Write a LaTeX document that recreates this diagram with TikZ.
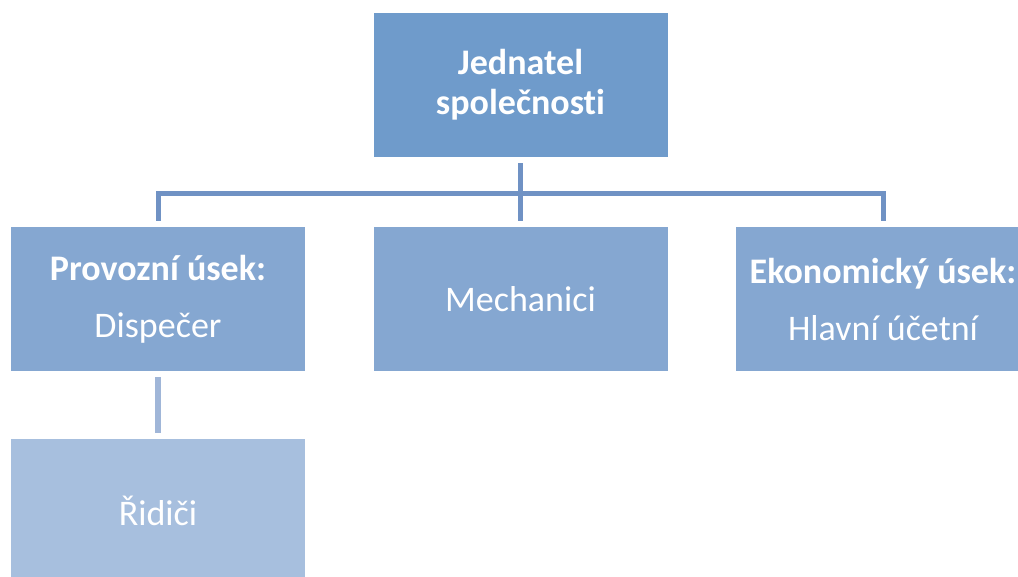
\documentclass[tikz,border=0pt]{standalone}
\usepackage{fontspec}
\setmainfont{Carlito}[Ligatures=NoCommon]
\definecolor{headblue}{HTML}{6F9BCB}
\definecolor{unitblue}{HTML}{85A7D1}
\definecolor{staffblue}{HTML}{A7BFDE}
\definecolor{lineblue}{HTML}{7092C4}
\definecolor{lightline}{HTML}{A0B6D8}
\tikzset{
  orgbox/.style={rectangle, minimum width=294pt, minimum height=144pt,
    inner sep=0pt, text=white, align=center,
    font=\fontsize{36}{40}\selectfont},
  link/.style={line width=5pt, draw=lineblue},
}

\begin{document}
\begin{tikzpicture}[x=1pt,y=-1pt]
    \useasboundingbox (0,0) rectangle (1018,576);
    \clip (0,0) rectangle (1018,576);
    % boxes
    \node[orgbox, fill=headblue, font=\fontsize{36}{40}\selectfont\bfseries]
        (boss) at (520.5,85) {Jednatel\\společnosti};
    \node[orgbox, fill=unitblue] (ops) at (158,299)
        {\textbf{Provozní úsek:}\\[17pt]Dispečer};
    \node[orgbox, fill=unitblue] (mech) at (520.5,299) {Mechanici};
    \node[orgbox, fill=unitblue] (econ) at (883,299)
        {\textbf{Ekonomický úsek:}\\[17pt]Hlavní účetní};
    \node[orgbox, fill=staffblue] (drivers) at (158,511) {Řidiči};
    % connectors
    \coordinate (bus) at (520.5,193);
    \draw[link] ([yshift=-6pt]boss.south) -- ([yshift=6pt]mech.north);
    \draw[link] ([yshift=6pt]ops.north) |- (bus) -| ([yshift=6pt]econ.north);
    \draw[link, draw=lightline, line width=6pt]
        ([yshift=-6pt]ops.south) -- ([yshift=6pt]drivers.north);
\end{tikzpicture}
\end{document}
